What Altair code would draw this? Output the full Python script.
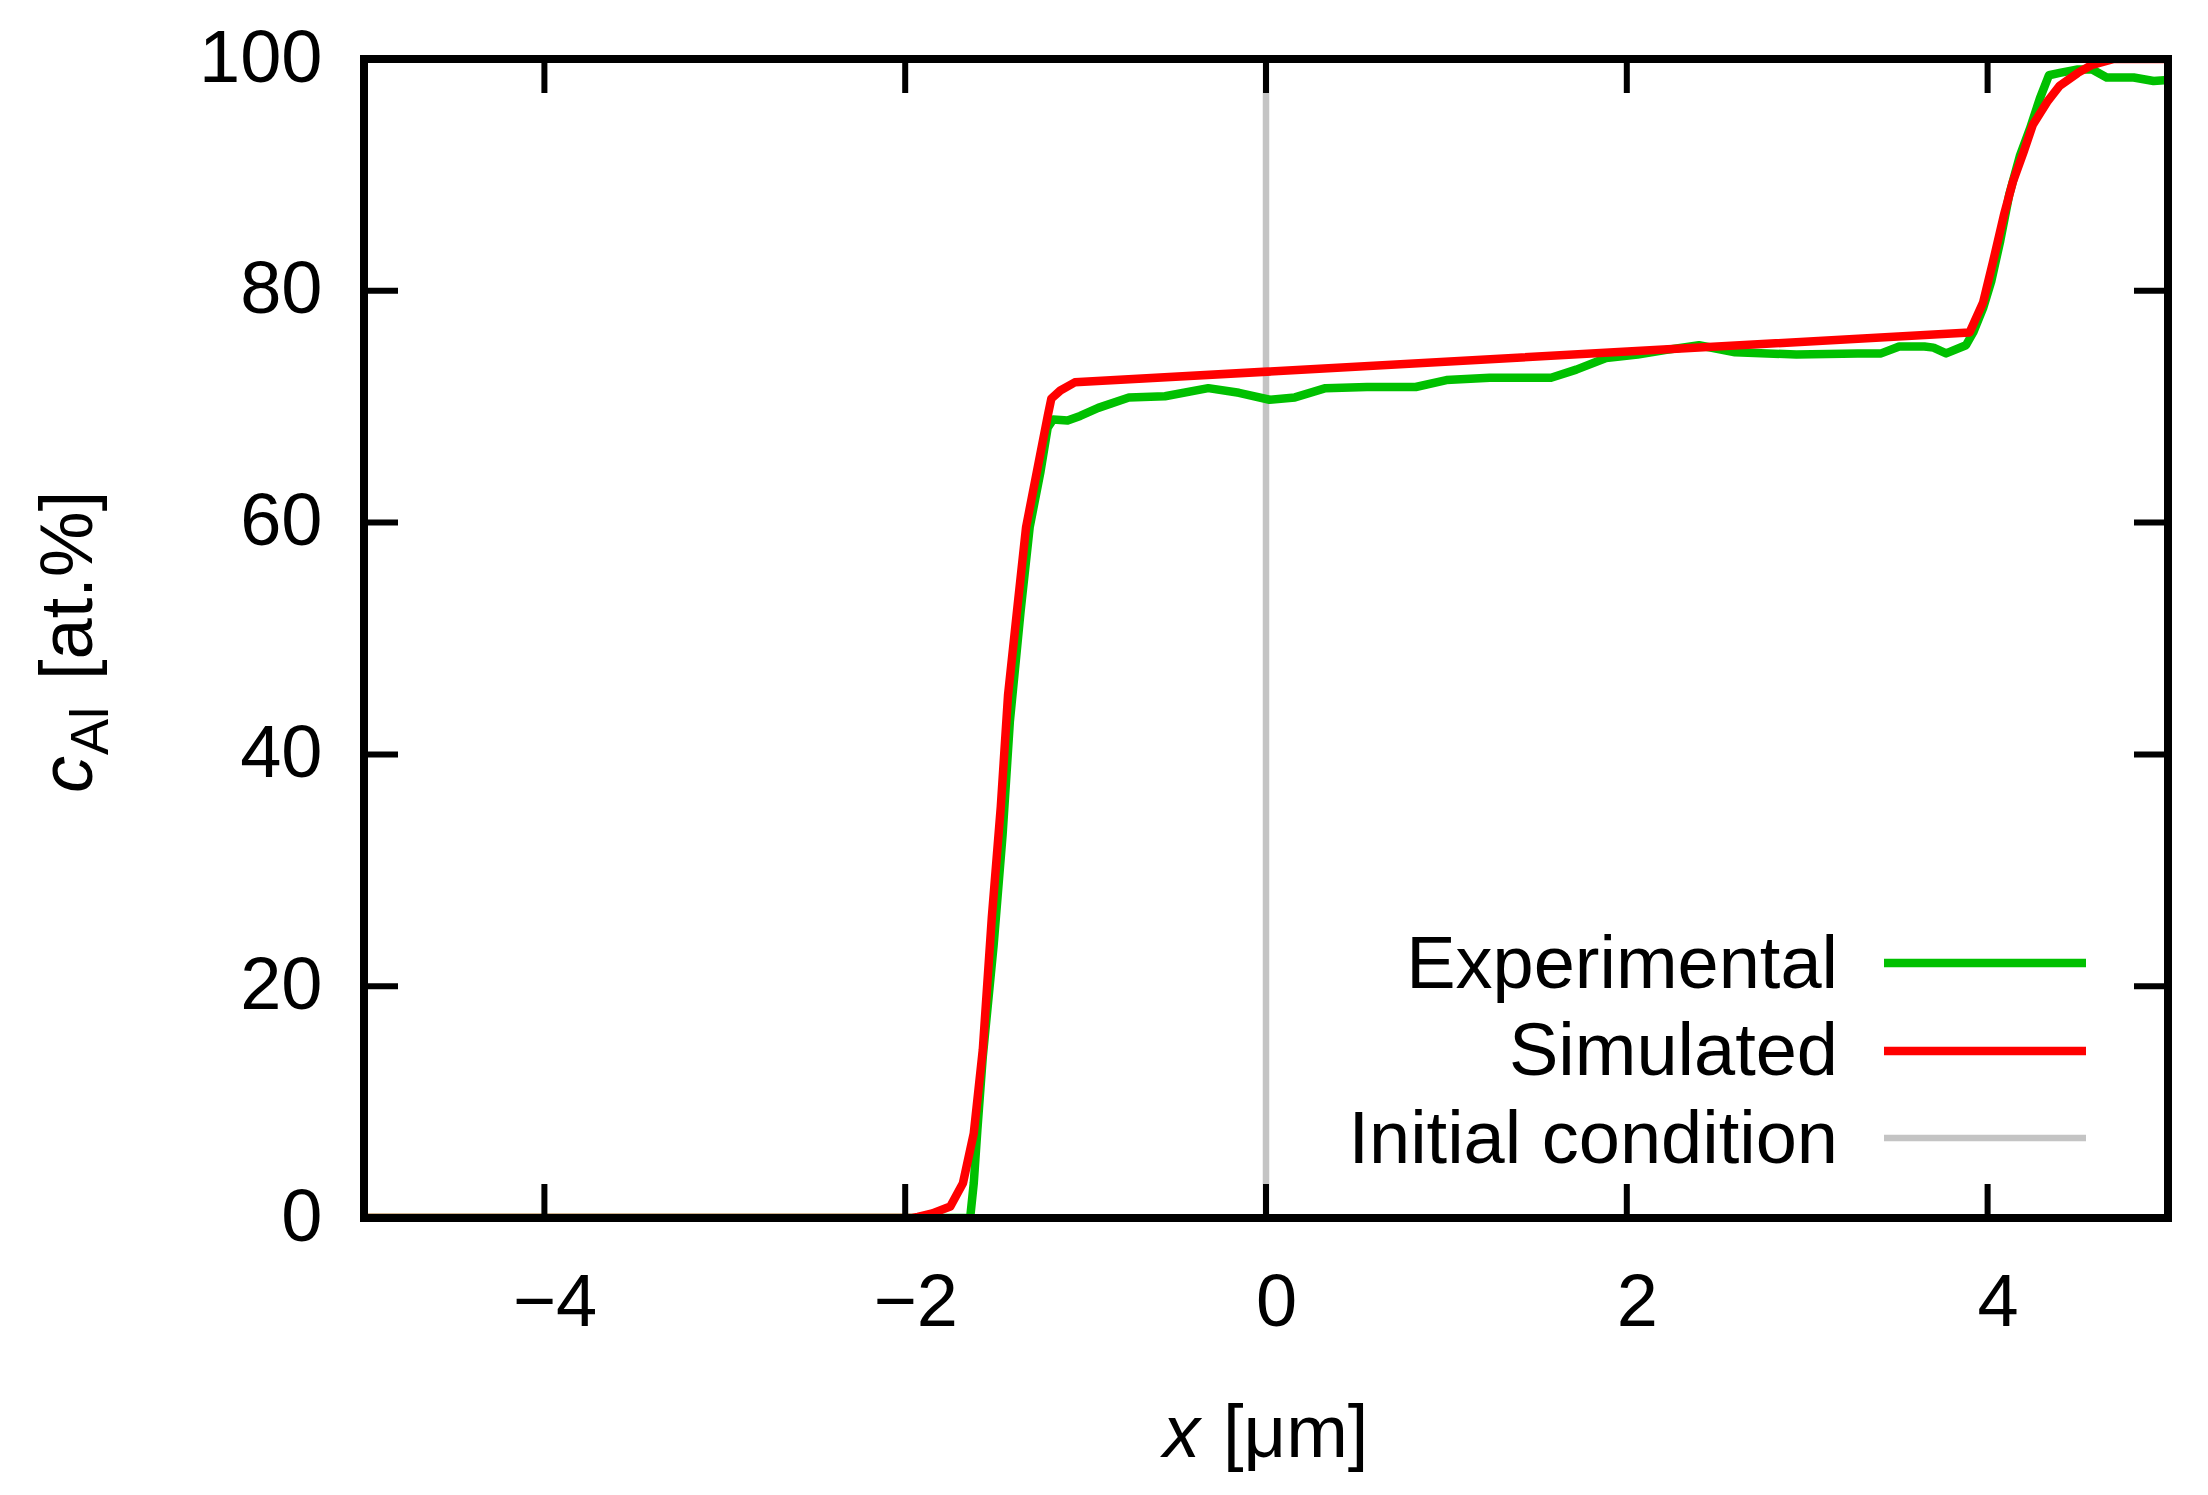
import altair as alt
import pandas as pd

# ---------------- data ----------------
exp_x = [-5, -1.64, -1.62, -1.60, -1.57, -1.51, -1.46, -1.42, -1.36, -1.31,
         -1.25, -1.21, -1.18, -1.10, -1.03, -0.93, -0.76, -0.56, -0.32, -0.15,
         0.02, 0.16, 0.33, 0.56, 0.83, 1.00, 1.24, 1.58, 1.72, 1.885,
         2.06, 2.22, 2.40, 2.60, 2.94, 3.28, 3.41, 3.51, 3.65, 3.70,
         3.77, 3.88, 3.92, 3.975, 4.02, 4.07, 4.12, 4.18, 4.235, 4.29,
         4.34, 4.40, 4.50, 4.58, 4.66, 4.81, 4.92, 5.0]
exp_y = [0, 0, 3, 7.6, 13.9, 23.5, 33.1, 42.8, 52.4, 59.6,
         64.4, 68.2, 68.9, 68.8, 69.2, 69.9, 70.8, 70.9, 71.6, 71.2,
         70.6, 70.8, 71.6, 71.7, 71.7, 72.3, 72.5, 72.5, 73.2, 74.2,
         74.5, 74.9, 75.3, 74.7, 74.5, 74.6, 74.6, 75.2, 75.2, 75.1,
         74.6, 75.3, 76.4, 78.5, 80.8, 84.3, 88.3, 91.7, 94.0, 96.6,
         98.6, 98.8, 99.1, 99.1, 98.4, 98.4, 98.1, 98.2]

sim_x = [-5, -1.96, -1.93, -1.85, -1.75, -1.68, -1.62, -1.57, -1.52, -1.47,
         -1.43, -1.38, -1.33, -1.27, -1.21, -1.19, -1.14, -1.06, 3.90, 3.975,
         4.03, 4.09, 4.14, 4.20, 4.25, 4.33, 4.40, 4.50, 4.58, 4.70, 5.0]
sim_y = [0, 0, 0.1, 0.4, 1.0, 3.0, 7.3, 14.5, 25.9, 35.5,
         45.1, 52.4, 59.6, 64.4, 69.2, 70.7, 71.4, 72.1, 76.4, 79.0,
         82.5, 86.5, 89.4, 92.0, 94.3, 96.3, 97.7, 98.8, 99.5, 100, 100]

init_x = [-5, 0, 0, 5]
init_y = [0, 0, 100, 100]

x_ticks = [-4, -2, 0, 2, 4]
y_ticks = [0, 20, 40, 60, 80, 100]
y_inner_ticks = [20, 40, 60, 80]

series_names = ["Experimental", "Simulated", "Initial condition"]
series_colors = ["#00c000", "#ff0000", "#c4c4c4"]

# ---------------- layout / style ----------------
W, H = 1804, 1159
FONT = "Liberation Sans"
FS = 74
TICK = 34
LW = 8.5

XSCALE = alt.Scale(domain=[-5, 5], nice=False, zero=False)
YSCALE = alt.Scale(domain=[0, 100], nice=False, zero=False)
XAXIS = alt.Axis(values=x_ticks, title=None, ticks=False, domain=False, grid=False,
                 labelFont=FONT, labelFontSize=FS, labelColor="black",
                 labelPadding=49, labelOffset=10, labelFlush=False, labelOverlap=False)
YAXIS = alt.Axis(values=y_ticks, title=None, ticks=False, domain=False, grid=False,
                 labelFont=FONT, labelFontSize=FS, labelColor="black",
                 labelPadding=42, labelFlush=False, labelOverlap=False)


def X(field):
    return alt.X(field, type="quantitative", scale=XSCALE, axis=XAXIS)


def Y(field):
    return alt.Y(field, type="quantitative", scale=YSCALE, axis=YAXIS)


def line_layer(xs, ys, color, width):
    df = pd.DataFrame({"x": xs, "y": ys, "i": list(range(len(xs)))})
    return alt.Chart(df).mark_line(color=color, strokeWidth=width, clip=True,
                                   strokeJoin="round", strokeCap="butt").encode(
        x=X("x"), y=Y("y"), order=alt.Order("i:Q"))


dummy = alt.Data(values=[{"d": 0}])


def text_layer(txt, x, y, size=FS, angle=0, align="left", italic=False):
    return alt.Chart(dummy).mark_text(
        text=txt, font=FONT, fontSize=size, angle=angle, align=align,
        baseline="alphabetic", fontStyle="italic" if italic else "normal",
        color="black").encode(x=alt.value(x), y=alt.value(y))


layers = []
# initial condition (below), experimental, simulated
layers.append(line_layer(init_x, init_y, series_colors[2], 6.5))
layers.append(line_layer(exp_x, exp_y, series_colors[0], LW))
layers.append(line_layer(sim_x, sim_y, series_colors[1], LW))

# inward ticks on all four sides
xt = pd.DataFrame({"t": x_ticks})
yt = pd.DataFrame({"t": y_inner_ticks})
tick_style = dict(color="black", strokeWidth=6)
layers.append(alt.Chart(xt).mark_rule(**tick_style).encode(
    x=X("t"), y=alt.value(H), y2=alt.value(H - TICK)))
layers.append(alt.Chart(xt).mark_rule(**tick_style).encode(
    x=X("t"), y=alt.value(0), y2=alt.value(TICK)))
layers.append(alt.Chart(yt).mark_rule(**tick_style).encode(
    y=Y("t"), x=alt.value(0), x2=alt.value(TICK)))
layers.append(alt.Chart(yt).mark_rule(**tick_style).encode(
    y=Y("t"), x=alt.value(W), x2=alt.value(W - TICK)))

# frame
layers.append(alt.Chart(dummy).mark_rect(fillOpacity=0, stroke="black", strokeWidth=8).encode(
    x=alt.value(0), x2=alt.value(W), y=alt.value(0), y2=alt.value(H)))

# legend (labels right-aligned, sample lines to the right)
leg_text_y = [929, 1016, 1104]
leg_line_y = [904, 992, 1079]
leg_widths = [LW, LW, 6.5]
for name, col, ty, ly, lw in zip(series_names, series_colors, leg_text_y, leg_line_y, leg_widths):
    layers.append(text_layer(name, 1474, ty, align="right"))
    layers.append(alt.Chart(dummy).mark_rule(color=col, strokeWidth=lw).encode(
        x=alt.value(1520), x2=alt.value(1722), y=alt.value(ly)))

# axis titles
layers.append(text_layer("x", 799, 1398, italic=True))
layers.append(text_layer("[μm]", 859, 1398))
layers.append(text_layer("c", -272, 734, angle=270, italic=True))
layers.append(text_layer("Al", -256, 696, size=54, angle=270))
layers.append(text_layer("[at.%]", -272, 621, angle=270))

chart = alt.layer(*layers).properties(
    width=W, height=H,
    autosize=alt.AutoSizeParams(type="none"),
    padding={"left": 356, "top": 51, "right": 32, "bottom": 268},
    background="white",
).configure_view(stroke=None)

chart.save("out.html", embed_options={"renderer": "svg", "actions": False})
